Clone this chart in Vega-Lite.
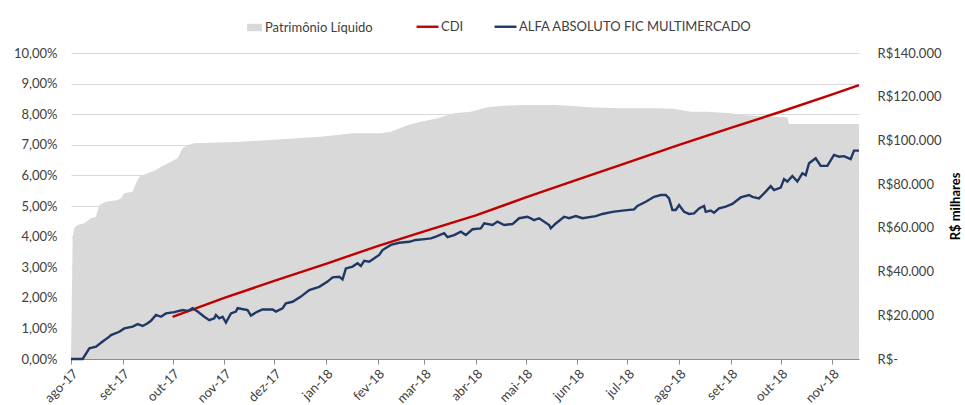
{
  "$schema": "https://vega.github.io/schema/vega-lite/v6.json",
  "autosize": {"type": "none"},
  "width": 788,
  "height": 306,
  "padding": {"left": 71, "top": 53, "right": 106, "bottom": 46},
  "background": "white",
  "config": {
    "font": "Lato",
    "view": {"stroke": null},
    "axis": {"labelFont": "Lato", "labelFontSize": 13, "labelColor": "#404040", "titleFont": "Lato"},
    "legend": {"labelFont": "Lato", "labelFontSize": 13, "labelColor": "#404040", "labelLimit": 0}
  },
  "datasets": {
    "pl": [
      {"data": "2017-08-01", "pl": 0},
      {"data": "2017-08-02", "pl": 56000},
      {"data": "2017-08-03", "pl": 59900},
      {"data": "2017-08-05", "pl": 61300},
      {"data": "2017-08-09", "pl": 62100},
      {"data": "2017-08-13", "pl": 64400},
      {"data": "2017-08-16", "pl": 65100},
      {"data": "2017-08-18", "pl": 70500},
      {"data": "2017-08-22", "pl": 72000},
      {"data": "2017-08-29", "pl": 72700},
      {"data": "2017-08-31", "pl": 73500},
      {"data": "2017-09-02", "pl": 75800},
      {"data": "2017-09-07", "pl": 76500},
      {"data": "2017-09-09", "pl": 80400},
      {"data": "2017-09-11", "pl": 83400},
      {"data": "2017-09-16", "pl": 85000},
      {"data": "2017-09-21", "pl": 86500},
      {"data": "2017-09-24", "pl": 88000},
      {"data": "2017-09-28", "pl": 89500},
      {"data": "2017-10-04", "pl": 91800},
      {"data": "2017-10-07", "pl": 96400},
      {"data": "2017-10-10", "pl": 97900},
      {"data": "2017-10-14", "pl": 98700},
      {"data": "2017-11-11", "pl": 99400},
      {"data": "2017-12-29", "pl": 101700},
      {"data": "2018-01-17", "pl": 103300},
      {"data": "2018-02-03", "pl": 103300},
      {"data": "2018-02-09", "pl": 104000},
      {"data": "2018-02-19", "pl": 107000},
      {"data": "2018-02-27", "pl": 108600},
      {"data": "2018-03-09", "pl": 110100},
      {"data": "2018-03-19", "pl": 112400},
      {"data": "2018-03-29", "pl": 113100},
      {"data": "2018-04-08", "pl": 115200},
      {"data": "2018-04-16", "pl": 115800},
      {"data": "2018-04-28", "pl": 116200},
      {"data": "2018-05-18", "pl": 116200},
      {"data": "2018-05-30", "pl": 115800},
      {"data": "2018-06-07", "pl": 115200},
      {"data": "2018-06-27", "pl": 114700},
      {"data": "2018-07-18", "pl": 114700},
      {"data": "2018-07-29", "pl": 114500},
      {"data": "2018-08-08", "pl": 113100},
      {"data": "2018-08-18", "pl": 113100},
      {"data": "2018-09-01", "pl": 112400},
      {"data": "2018-09-07", "pl": 111600},
      {"data": "2018-10-05", "pl": 110500},
      {"data": "2018-10-06", "pl": 107500},
      {"data": "2018-11-17", "pl": 107500}
    ],
    "ret": [
      {"data": "2017-10-01", "serie": "CDI", "ret": 0.0138},
      {"data": "2017-11-01", "serie": "CDI", "ret": 0.0200},
      {"data": "2017-12-01", "serie": "CDI", "ret": 0.0255},
      {"data": "2018-01-01", "serie": "CDI", "ret": 0.0311},
      {"data": "2018-02-01", "serie": "CDI", "ret": 0.0369},
      {"data": "2018-03-01", "serie": "CDI", "ret": 0.0417},
      {"data": "2018-04-01", "serie": "CDI", "ret": 0.0469},
      {"data": "2018-05-01", "serie": "CDI", "ret": 0.0528},
      {"data": "2018-06-01", "serie": "CDI", "ret": 0.0586},
      {"data": "2018-07-01", "serie": "CDI", "ret": 0.0642},
      {"data": "2018-08-01", "serie": "CDI", "ret": 0.0700},
      {"data": "2018-09-01", "serie": "CDI", "ret": 0.0755},
      {"data": "2018-10-01", "serie": "CDI", "ret": 0.0808},
      {"data": "2018-11-01", "serie": "CDI", "ret": 0.0865},
      {"data": "2018-11-17", "serie": "CDI", "ret": 0.0895},
      {"data": "2017-08-01", "serie": "ALFA ABSOLUTO FIC MULTIMERCADO", "ret": 0.0},
      {"data": "2017-08-08", "serie": "ALFA ABSOLUTO FIC MULTIMERCADO", "ret": 0.0},
      {"data": "2017-08-12", "serie": "ALFA ABSOLUTO FIC MULTIMERCADO", "ret": 0.0035},
      {"data": "2017-08-16", "serie": "ALFA ABSOLUTO FIC MULTIMERCADO", "ret": 0.0040},
      {"data": "2017-08-20", "serie": "ALFA ABSOLUTO FIC MULTIMERCADO", "ret": 0.0057},
      {"data": "2017-08-24", "serie": "ALFA ABSOLUTO FIC MULTIMERCADO", "ret": 0.0073},
      {"data": "2017-08-25", "serie": "ALFA ABSOLUTO FIC MULTIMERCADO", "ret": 0.0078},
      {"data": "2017-08-30", "serie": "ALFA ABSOLUTO FIC MULTIMERCADO", "ret": 0.0089},
      {"data": "2017-09-02", "serie": "ALFA ABSOLUTO FIC MULTIMERCADO", "ret": 0.0100},
      {"data": "2017-09-07", "serie": "ALFA ABSOLUTO FIC MULTIMERCADO", "ret": 0.0106},
      {"data": "2017-09-10", "serie": "ALFA ABSOLUTO FIC MULTIMERCADO", "ret": 0.0114},
      {"data": "2017-09-13", "serie": "ALFA ABSOLUTO FIC MULTIMERCADO", "ret": 0.0108},
      {"data": "2017-09-16", "serie": "ALFA ABSOLUTO FIC MULTIMERCADO", "ret": 0.0117},
      {"data": "2017-09-18", "serie": "ALFA ABSOLUTO FIC MULTIMERCADO", "ret": 0.0125},
      {"data": "2017-09-21", "serie": "ALFA ABSOLUTO FIC MULTIMERCADO", "ret": 0.0144},
      {"data": "2017-09-24", "serie": "ALFA ABSOLUTO FIC MULTIMERCADO", "ret": 0.0138},
      {"data": "2017-09-27", "serie": "ALFA ABSOLUTO FIC MULTIMERCADO", "ret": 0.0149},
      {"data": "2017-10-02", "serie": "ALFA ABSOLUTO FIC MULTIMERCADO", "ret": 0.0153},
      {"data": "2017-10-07", "serie": "ALFA ABSOLUTO FIC MULTIMERCADO", "ret": 0.0160},
      {"data": "2017-10-10", "serie": "ALFA ABSOLUTO FIC MULTIMERCADO", "ret": 0.0157},
      {"data": "2017-10-13", "serie": "ALFA ABSOLUTO FIC MULTIMERCADO", "ret": 0.0166},
      {"data": "2017-10-16", "serie": "ALFA ABSOLUTO FIC MULTIMERCADO", "ret": 0.0155},
      {"data": "2017-10-20", "serie": "ALFA ABSOLUTO FIC MULTIMERCADO", "ret": 0.0138},
      {"data": "2017-10-23", "serie": "ALFA ABSOLUTO FIC MULTIMERCADO", "ret": 0.0127},
      {"data": "2017-10-26", "serie": "ALFA ABSOLUTO FIC MULTIMERCADO", "ret": 0.0133},
      {"data": "2017-10-27", "serie": "ALFA ABSOLUTO FIC MULTIMERCADO", "ret": 0.0144},
      {"data": "2017-10-29", "serie": "ALFA ABSOLUTO FIC MULTIMERCADO", "ret": 0.0133},
      {"data": "2017-10-31", "serie": "ALFA ABSOLUTO FIC MULTIMERCADO", "ret": 0.0138},
      {"data": "2017-11-02", "serie": "ALFA ABSOLUTO FIC MULTIMERCADO", "ret": 0.0119},
      {"data": "2017-11-05", "serie": "ALFA ABSOLUTO FIC MULTIMERCADO", "ret": 0.0149},
      {"data": "2017-11-08", "serie": "ALFA ABSOLUTO FIC MULTIMERCADO", "ret": 0.0155},
      {"data": "2017-11-09", "serie": "ALFA ABSOLUTO FIC MULTIMERCADO", "ret": 0.0166},
      {"data": "2017-11-15", "serie": "ALFA ABSOLUTO FIC MULTIMERCADO", "ret": 0.0160},
      {"data": "2017-11-17", "serie": "ALFA ABSOLUTO FIC MULTIMERCADO", "ret": 0.0142},
      {"data": "2017-11-21", "serie": "ALFA ABSOLUTO FIC MULTIMERCADO", "ret": 0.0155},
      {"data": "2017-11-24", "serie": "ALFA ABSOLUTO FIC MULTIMERCADO", "ret": 0.0162},
      {"data": "2017-11-30", "serie": "ALFA ABSOLUTO FIC MULTIMERCADO", "ret": 0.0162},
      {"data": "2017-12-02", "serie": "ALFA ABSOLUTO FIC MULTIMERCADO", "ret": 0.0155},
      {"data": "2017-12-06", "serie": "ALFA ABSOLUTO FIC MULTIMERCADO", "ret": 0.0166},
      {"data": "2017-12-08", "serie": "ALFA ABSOLUTO FIC MULTIMERCADO", "ret": 0.0182},
      {"data": "2017-12-12", "serie": "ALFA ABSOLUTO FIC MULTIMERCADO", "ret": 0.0187},
      {"data": "2017-12-17", "serie": "ALFA ABSOLUTO FIC MULTIMERCADO", "ret": 0.0204},
      {"data": "2017-12-22", "serie": "ALFA ABSOLUTO FIC MULTIMERCADO", "ret": 0.0225},
      {"data": "2017-12-28", "serie": "ALFA ABSOLUTO FIC MULTIMERCADO", "ret": 0.0236},
      {"data": "2018-01-02", "serie": "ALFA ABSOLUTO FIC MULTIMERCADO", "ret": 0.0253},
      {"data": "2018-01-05", "serie": "ALFA ABSOLUTO FIC MULTIMERCADO", "ret": 0.0267},
      {"data": "2018-01-09", "serie": "ALFA ABSOLUTO FIC MULTIMERCADO", "ret": 0.0269},
      {"data": "2018-01-11", "serie": "ALFA ABSOLUTO FIC MULTIMERCADO", "ret": 0.0260},
      {"data": "2018-01-13", "serie": "ALFA ABSOLUTO FIC MULTIMERCADO", "ret": 0.0296},
      {"data": "2018-01-17", "serie": "ALFA ABSOLUTO FIC MULTIMERCADO", "ret": 0.0302},
      {"data": "2018-01-20", "serie": "ALFA ABSOLUTO FIC MULTIMERCADO", "ret": 0.0313},
      {"data": "2018-01-22", "serie": "ALFA ABSOLUTO FIC MULTIMERCADO", "ret": 0.0304},
      {"data": "2018-01-24", "serie": "ALFA ABSOLUTO FIC MULTIMERCADO", "ret": 0.0321},
      {"data": "2018-01-27", "serie": "ALFA ABSOLUTO FIC MULTIMERCADO", "ret": 0.0318},
      {"data": "2018-02-02", "serie": "ALFA ABSOLUTO FIC MULTIMERCADO", "ret": 0.0340},
      {"data": "2018-02-04", "serie": "ALFA ABSOLUTO FIC MULTIMERCADO", "ret": 0.0356},
      {"data": "2018-02-09", "serie": "ALFA ABSOLUTO FIC MULTIMERCADO", "ret": 0.0373},
      {"data": "2018-02-14", "serie": "ALFA ABSOLUTO FIC MULTIMERCADO", "ret": 0.0380},
      {"data": "2018-02-20", "serie": "ALFA ABSOLUTO FIC MULTIMERCADO", "ret": 0.0383},
      {"data": "2018-02-24", "serie": "ALFA ABSOLUTO FIC MULTIMERCADO", "ret": 0.0389},
      {"data": "2018-02-28", "serie": "ALFA ABSOLUTO FIC MULTIMERCADO", "ret": 0.0391},
      {"data": "2018-03-05", "serie": "ALFA ABSOLUTO FIC MULTIMERCADO", "ret": 0.0394},
      {"data": "2018-03-08", "serie": "ALFA ABSOLUTO FIC MULTIMERCADO", "ret": 0.0400},
      {"data": "2018-03-13", "serie": "ALFA ABSOLUTO FIC MULTIMERCADO", "ret": 0.0411},
      {"data": "2018-03-15", "serie": "ALFA ABSOLUTO FIC MULTIMERCADO", "ret": 0.0398},
      {"data": "2018-03-19", "serie": "ALFA ABSOLUTO FIC MULTIMERCADO", "ret": 0.0405},
      {"data": "2018-03-23", "serie": "ALFA ABSOLUTO FIC MULTIMERCADO", "ret": 0.0416},
      {"data": "2018-03-26", "serie": "ALFA ABSOLUTO FIC MULTIMERCADO", "ret": 0.0405},
      {"data": "2018-03-30", "serie": "ALFA ABSOLUTO FIC MULTIMERCADO", "ret": 0.0424},
      {"data": "2018-04-04", "serie": "ALFA ABSOLUTO FIC MULTIMERCADO", "ret": 0.0427},
      {"data": "2018-04-06", "serie": "ALFA ABSOLUTO FIC MULTIMERCADO", "ret": 0.0443},
      {"data": "2018-04-11", "serie": "ALFA ABSOLUTO FIC MULTIMERCADO", "ret": 0.0438},
      {"data": "2018-04-14", "serie": "ALFA ABSOLUTO FIC MULTIMERCADO", "ret": 0.0449},
      {"data": "2018-04-18", "serie": "ALFA ABSOLUTO FIC MULTIMERCADO", "ret": 0.0438},
      {"data": "2018-04-23", "serie": "ALFA ABSOLUTO FIC MULTIMERCADO", "ret": 0.0441},
      {"data": "2018-04-27", "serie": "ALFA ABSOLUTO FIC MULTIMERCADO", "ret": 0.0460},
      {"data": "2018-05-02", "serie": "ALFA ABSOLUTO FIC MULTIMERCADO", "ret": 0.0465},
      {"data": "2018-05-06", "serie": "ALFA ABSOLUTO FIC MULTIMERCADO", "ret": 0.0454},
      {"data": "2018-05-09", "serie": "ALFA ABSOLUTO FIC MULTIMERCADO", "ret": 0.0460},
      {"data": "2018-05-15", "serie": "ALFA ABSOLUTO FIC MULTIMERCADO", "ret": 0.0438},
      {"data": "2018-05-16", "serie": "ALFA ABSOLUTO FIC MULTIMERCADO", "ret": 0.0427},
      {"data": "2018-05-19", "serie": "ALFA ABSOLUTO FIC MULTIMERCADO", "ret": 0.0443},
      {"data": "2018-05-24", "serie": "ALFA ABSOLUTO FIC MULTIMERCADO", "ret": 0.0465},
      {"data": "2018-05-27", "serie": "ALFA ABSOLUTO FIC MULTIMERCADO", "ret": 0.0460},
      {"data": "2018-05-31", "serie": "ALFA ABSOLUTO FIC MULTIMERCADO", "ret": 0.0467},
      {"data": "2018-06-04", "serie": "ALFA ABSOLUTO FIC MULTIMERCADO", "ret": 0.0460},
      {"data": "2018-06-12", "serie": "ALFA ABSOLUTO FIC MULTIMERCADO", "ret": 0.0467},
      {"data": "2018-06-16", "serie": "ALFA ABSOLUTO FIC MULTIMERCADO", "ret": 0.0474},
      {"data": "2018-06-22", "serie": "ALFA ABSOLUTO FIC MULTIMERCADO", "ret": 0.0481},
      {"data": "2018-06-28", "serie": "ALFA ABSOLUTO FIC MULTIMERCADO", "ret": 0.0485},
      {"data": "2018-07-05", "serie": "ALFA ABSOLUTO FIC MULTIMERCADO", "ret": 0.0489},
      {"data": "2018-07-07", "serie": "ALFA ABSOLUTO FIC MULTIMERCADO", "ret": 0.0500},
      {"data": "2018-07-12", "serie": "ALFA ABSOLUTO FIC MULTIMERCADO", "ret": 0.0514},
      {"data": "2018-07-17", "serie": "ALFA ABSOLUTO FIC MULTIMERCADO", "ret": 0.0530},
      {"data": "2018-07-21", "serie": "ALFA ABSOLUTO FIC MULTIMERCADO", "ret": 0.0536},
      {"data": "2018-07-24", "serie": "ALFA ABSOLUTO FIC MULTIMERCADO", "ret": 0.0536},
      {"data": "2018-07-26", "serie": "ALFA ABSOLUTO FIC MULTIMERCADO", "ret": 0.0525},
      {"data": "2018-07-28", "serie": "ALFA ABSOLUTO FIC MULTIMERCADO", "ret": 0.0487},
      {"data": "2018-07-30", "serie": "ALFA ABSOLUTO FIC MULTIMERCADO", "ret": 0.0487},
      {"data": "2018-08-01", "serie": "ALFA ABSOLUTO FIC MULTIMERCADO", "ret": 0.0503},
      {"data": "2018-08-04", "serie": "ALFA ABSOLUTO FIC MULTIMERCADO", "ret": 0.0481},
      {"data": "2018-08-07", "serie": "ALFA ABSOLUTO FIC MULTIMERCADO", "ret": 0.0474},
      {"data": "2018-08-10", "serie": "ALFA ABSOLUTO FIC MULTIMERCADO", "ret": 0.0476},
      {"data": "2018-08-13", "serie": "ALFA ABSOLUTO FIC MULTIMERCADO", "ret": 0.0492},
      {"data": "2018-08-16", "serie": "ALFA ABSOLUTO FIC MULTIMERCADO", "ret": 0.0500},
      {"data": "2018-08-17", "serie": "ALFA ABSOLUTO FIC MULTIMERCADO", "ret": 0.0481},
      {"data": "2018-08-20", "serie": "ALFA ABSOLUTO FIC MULTIMERCADO", "ret": 0.0485},
      {"data": "2018-08-22", "serie": "ALFA ABSOLUTO FIC MULTIMERCADO", "ret": 0.0478},
      {"data": "2018-08-25", "serie": "ALFA ABSOLUTO FIC MULTIMERCADO", "ret": 0.0492},
      {"data": "2018-08-29", "serie": "ALFA ABSOLUTO FIC MULTIMERCADO", "ret": 0.0498},
      {"data": "2018-09-02", "serie": "ALFA ABSOLUTO FIC MULTIMERCADO", "ret": 0.0507},
      {"data": "2018-09-07", "serie": "ALFA ABSOLUTO FIC MULTIMERCADO", "ret": 0.0528},
      {"data": "2018-09-12", "serie": "ALFA ABSOLUTO FIC MULTIMERCADO", "ret": 0.0536},
      {"data": "2018-09-14", "serie": "ALFA ABSOLUTO FIC MULTIMERCADO", "ret": 0.0530},
      {"data": "2018-09-18", "serie": "ALFA ABSOLUTO FIC MULTIMERCADO", "ret": 0.0525},
      {"data": "2018-09-22", "serie": "ALFA ABSOLUTO FIC MULTIMERCADO", "ret": 0.0547},
      {"data": "2018-09-25", "serie": "ALFA ABSOLUTO FIC MULTIMERCADO", "ret": 0.0565},
      {"data": "2018-09-27", "serie": "ALFA ABSOLUTO FIC MULTIMERCADO", "ret": 0.0552},
      {"data": "2018-10-01", "serie": "ALFA ABSOLUTO FIC MULTIMERCADO", "ret": 0.0560},
      {"data": "2018-10-03", "serie": "ALFA ABSOLUTO FIC MULTIMERCADO", "ret": 0.0588},
      {"data": "2018-10-05", "serie": "ALFA ABSOLUTO FIC MULTIMERCADO", "ret": 0.0580},
      {"data": "2018-10-08", "serie": "ALFA ABSOLUTO FIC MULTIMERCADO", "ret": 0.0598},
      {"data": "2018-10-11", "serie": "ALFA ABSOLUTO FIC MULTIMERCADO", "ret": 0.0580},
      {"data": "2018-10-14", "serie": "ALFA ABSOLUTO FIC MULTIMERCADO", "ret": 0.0607},
      {"data": "2018-10-16", "serie": "ALFA ABSOLUTO FIC MULTIMERCADO", "ret": 0.0601},
      {"data": "2018-10-18", "serie": "ALFA ABSOLUTO FIC MULTIMERCADO", "ret": 0.0640},
      {"data": "2018-10-22", "serie": "ALFA ABSOLUTO FIC MULTIMERCADO", "ret": 0.0656},
      {"data": "2018-10-25", "serie": "ALFA ABSOLUTO FIC MULTIMERCADO", "ret": 0.0631},
      {"data": "2018-10-29", "serie": "ALFA ABSOLUTO FIC MULTIMERCADO", "ret": 0.0631},
      {"data": "2018-11-02", "serie": "ALFA ABSOLUTO FIC MULTIMERCADO", "ret": 0.0667},
      {"data": "2018-11-05", "serie": "ALFA ABSOLUTO FIC MULTIMERCADO", "ret": 0.0661},
      {"data": "2018-11-08", "serie": "ALFA ABSOLUTO FIC MULTIMERCADO", "ret": 0.0663},
      {"data": "2018-11-12", "serie": "ALFA ABSOLUTO FIC MULTIMERCADO", "ret": 0.0653},
      {"data": "2018-11-14", "serie": "ALFA ABSOLUTO FIC MULTIMERCADO", "ret": 0.0681},
      {"data": "2018-11-17", "serie": "ALFA ABSOLUTO FIC MULTIMERCADO", "ret": 0.0681}
    ]
  },
  "layer": [
    {
      "data": {"name": "pl"},
      "mark": {"type": "area", "color": "#d9d9d9"},
      "encoding": {
        "x": {
          "field": "data", "type": "temporal",
          "scale": {"type": "utc", "domain": [1501545600000, 1542412800000], "nice": false},
          "axis": {
            "title": null,
            "tickCount": {"interval": "month", "step": 1},
            "labelExpr": "['jan','fev','mar','abr','mai','jun','jul','ago','set','out','nov','dez'][utcmonth(datum.value)] + '-' + utcFormat(datum.value, '%y')",
            "labelAngle": -45,
            "labelAlign": "right",
            "labelBaseline": "top",
            "labelPadding": 3,
            "domainColor": "#8c8c8c",
            "tickColor": "#8c8c8c",
            "tickSize": 5,
            "grid": false,
            "labelOverlap": false,
            "labelFlush": false
          }
        },
        "y": {
          "field": "pl", "type": "quantitative",
          "scale": {"domain": [0, 140000], "nice": false},
          "axis": {
            "orient": "right",
            "values": [0, 20000, 40000, 60000, 80000, 100000, 120000, 140000],
            "labelExpr": "datum.value == 0 ? 'R$-' : 'R$' + replace(format(datum.value, ','), ',', '.')",
            "grid": false,
            "domain": false,
            "ticks": false,
            "labelPadding": 18,
            "title": "R$ milhares",
            "titleFontWeight": "bold",
            "titleFontSize": 13,
            "titleColor": "#000000",
            "titleAngle": 270,
            "titlePadding": 22
          }
        },
        "fill": {
          "datum": "Patrimônio Líquido",
          "scale": {"range": ["#d9d9d9"]},
          "legend": {"title": null, "orient": "none", "legendX": 176, "legendY": -33, "symbolType": "M-1,-0.5H1V0.5H-1Z", "symbolSize": 220, "symbolStrokeWidth": 0, "labelOffset": 3}
        }
      }
    },
    {
      "data": {"name": "ret"},
      "mark": {"type": "line", "strokeWidth": 2.4},
      "encoding": {
        "x": {"field": "data", "type": "temporal"},
        "y": {
          "field": "ret", "type": "quantitative",
          "scale": {"domain": [0, 0.1], "nice": false},
          "axis": {
            "orient": "left",
            "values": [0, 0.01, 0.02, 0.03, 0.04, 0.05, 0.06, 0.07, 0.08, 0.09, 0.1],
            "labelExpr": "replace(format(datum.value, '.2%'), '.', ',')",
            "title": null,
            "domain": false,
            "ticks": false,
            "labelPadding": 14,
            "grid": true,
            "gridColor": "#d9d9d9",
            "gridWidth": 1
          }
        },
        "stroke": {
          "field": "serie", "type": "nominal",
          "scale": {"domain": ["CDI", "ALFA ABSOLUTO FIC MULTIMERCADO"], "range": ["#c00000", "#1f3864"]},
          "legend": {"title": null, "orient": "none", "legendX": 344, "legendY": -39, "direction": "horizontal", "symbolType": "stroke", "symbolSize": 480, "symbolStrokeWidth": 2.4, "labelOffset": 1, "columnPadding": 25}
        }
      }
    }
  ],
  "resolve": {"scale": {"y": "independent", "fill": "independent", "stroke": "independent"}, "axis": {"y": "independent"}}
}
